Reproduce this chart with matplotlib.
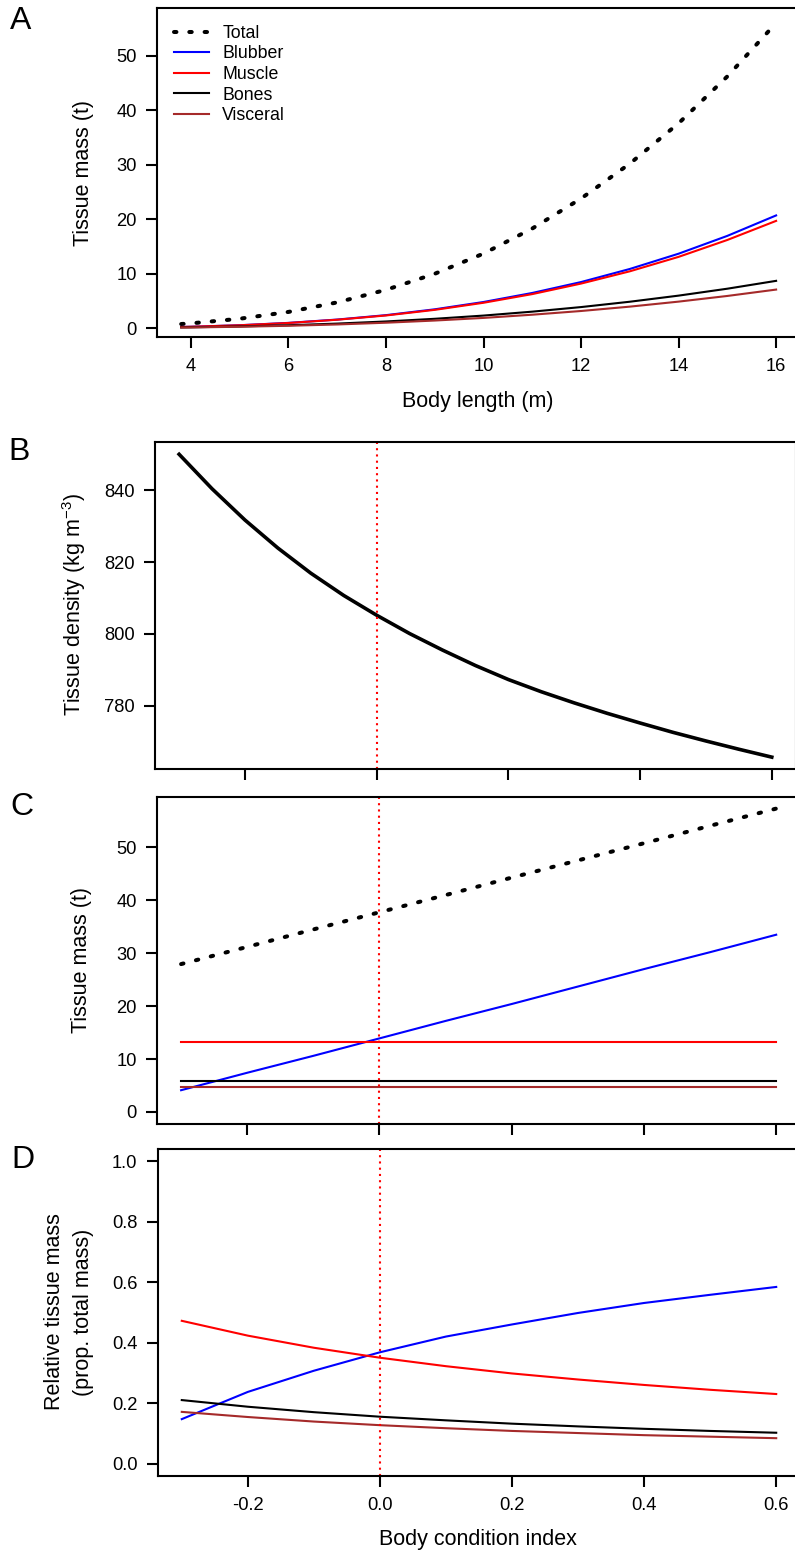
import matplotlib
matplotlib.use('Agg')
import matplotlib.pyplot as plt

plt.rcParams['font.family'] = ['Liberation Sans', 'DejaVu Sans']
plt.rcParams['axes.unicode_minus'] = False
plt.rcParams['mathtext.fontset'] = 'custom'
plt.rcParams['mathtext.rm'] = 'Liberation Sans'
plt.rcParams['mathtext.it'] = 'Liberation Sans:italic'
plt.rcParams['mathtext.default'] = 'regular'

# ---------------- Data ----------------
# Panel A: tissue mass (t) vs body length (m)
length_m = [3.8, 4, 5, 6, 7, 8, 9, 10, 11, 12, 13, 14, 15, 16]
total_A = [0.78, 0.90, 1.75, 3.00, 4.75, 7.05, 10.0, 13.7, 18.3, 23.8, 30.2, 37.6, 46.2, 56.0]
blubber_A = [0.24, 0.28, 0.56, 0.99, 1.60, 2.41, 3.48, 4.82, 6.48, 8.48, 10.88, 13.68, 16.95, 20.7]
muscle_A = [0.24, 0.28, 0.55, 0.97, 1.57, 2.35, 3.38, 4.68, 6.27, 8.20, 10.45, 13.10, 16.20, 19.7]
bones_A = [0.155, 0.18, 0.34, 0.56, 0.86, 1.25, 1.74, 2.33, 3.05, 3.89, 4.87, 5.99, 7.26, 8.7]
visceral_A = [0.13, 0.15, 0.28, 0.46, 0.70, 1.02, 1.42, 1.90, 2.49, 3.17, 3.97, 4.89, 5.93, 7.1]

# Panel B: tissue density vs body condition index
bci_B = [-0.30, -0.25, -0.20, -0.15, -0.10, -0.05, 0.00, 0.05, 0.10, 0.15,
         0.20, 0.25, 0.30, 0.35, 0.40, 0.45, 0.50, 0.55, 0.60]
density_B = [850.0, 840.4, 831.7, 823.9, 816.9, 810.7, 805.2, 800.1, 795.5, 791.2,
             787.3, 783.9, 780.8, 777.9, 775.2, 772.6, 770.2, 767.9, 765.7]

# Panel C: tissue mass (t) vs body condition index
bci_C = [-0.3, -0.2, -0.1, 0.0, 0.1, 0.2, 0.3, 0.4, 0.5, 0.6]
total_C = [27.95, 31.2, 34.5, 37.75, 41.0, 44.3, 47.55, 50.8, 54.1, 57.35]
blubber_C = [4.1, 7.4, 10.6, 13.9, 17.2, 20.4, 23.7, 27.0, 30.2, 33.5]
muscle_C = [13.2, 13.2, 13.2, 13.2, 13.2, 13.2, 13.2, 13.2, 13.2, 13.2]
bones_C = [5.86, 5.86, 5.86, 5.86, 5.86, 5.86, 5.86, 5.86, 5.86, 5.86]
visceral_C = [4.79, 4.79, 4.79, 4.79, 4.79, 4.79, 4.79, 4.79, 4.79, 4.79]

# Panel D: relative tissue mass vs body condition index
bci_D = [-0.3, -0.2, -0.1, 0.0, 0.1, 0.2, 0.3, 0.4, 0.5, 0.6]
blubber_D = [0.147, 0.237, 0.307, 0.368, 0.420, 0.460, 0.498, 0.531, 0.558, 0.584]
muscle_D = [0.472, 0.423, 0.383, 0.350, 0.322, 0.298, 0.278, 0.260, 0.244, 0.230]
bones_D = [0.210, 0.188, 0.170, 0.155, 0.143, 0.132, 0.123, 0.115, 0.108, 0.102]
visceral_D = [0.171, 0.154, 0.139, 0.127, 0.117, 0.108, 0.101, 0.094, 0.089, 0.084]

labels = ['Total', 'Blubber', 'Muscle', 'Bones', 'Visceral']
colors = {'Blubber': '#0000FF', 'Muscle': '#FF0000', 'Bones': '#000000', 'Visceral': '#A52A2A'}

ticks_A_x = [4, 6, 8, 10, 12, 14, 16]
ticks_A_y = [0, 10, 20, 30, 40, 50]
ticks_B_y = [780, 800, 820, 840]
ticks_bci = [-0.2, 0.0, 0.2, 0.4, 0.6]
ticks_C_y = [0, 10, 20, 30, 40, 50]
ticks_D_y = [0.0, 0.2, 0.4, 0.6, 0.8, 1.0]

# ---------------- Layout ----------------
W, H = 795, 1553
fig = plt.figure(figsize=(W / 100, H / 100), dpi=100)


def add_ax(left, top, right, bottom):
    return fig.add_axes([left / W, 1 - bottom / H, (right - left) / W, (bottom - top) / H])


TICK_FS = 13.2
LAB_FS = 15.5
LET_FS = 23
LW = 1.5
DOT_KW = dict(linestyle=(0, (0.6, 3.2)), dash_capstyle='round', linewidth=2.9, color='black')
REF_KW = dict(color='#FF0000', linestyle=(0, (1, 2)), linewidth=1.5)


def style(ax):
    for s in ax.spines.values():
        s.set_linewidth(1.5)
    ax.tick_params(direction='out', length=7.7, width=1.5, labelsize=TICK_FS)
    ax.tick_params(axis='y', pad=7.2)
    ax.tick_params(axis='x', pad=7.5)


# Panel A
axA = add_ax(157.3, 8, 800, 337)
axA.plot(length_m, total_A, label='Total', **DOT_KW)
axA.plot(length_m, blubber_A, color=colors['Blubber'], lw=LW, label='Blubber')
axA.plot(length_m, muscle_A, color=colors['Muscle'], lw=LW, label='Muscle')
axA.plot(length_m, bones_A, color=colors['Bones'], lw=LW, label='Bones')
axA.plot(length_m, visceral_A, color=colors['Visceral'], lw=LW, label='Visceral')
axA.set_xlim(3.31, 16.49)
axA.set_ylim(-1.6, 58.75)
axA.set_xticks(ticks_A_x)
axA.set_yticks(ticks_A_y)
style(axA)
axA.legend(loc='upper left', frameon=False, fontsize=12.8, handlelength=1.95,
           handletextpad=0.75, labelspacing=0.2, borderaxespad=0.5, borderpad=0.45)

# Panel B
axB = add_ax(155.4, 441.7, 795.5, 769)
axB.plot(bci_B, density_B, color='black', lw=2.6)
axB.axvline(0, **REF_KW)
axB.set_xlim(-0.336, 0.636)
axB.set_ylim(762.4, 853.5)
axB.set_xticks(ticks_bci)
axB.set_xticklabels([])
axB.set_yticks(ticks_B_y)
style(axB)

# Panel C
axC = add_ax(157.3, 796.7, 800, 1124)
axC.plot(bci_C, total_C, **DOT_KW)
axC.plot(bci_C, blubber_C, color=colors['Blubber'], lw=LW)
axC.plot(bci_C, muscle_C, color=colors['Muscle'], lw=LW)
axC.plot(bci_C, bones_C, color=colors['Bones'], lw=LW)
axC.plot(bci_C, visceral_C, color=colors['Visceral'], lw=LW)
axC.axvline(0, **REF_KW)
axC.set_xlim(-0.336, 0.636)
axC.set_ylim(-2.29, 59.6)
axC.set_xticks(ticks_bci)
axC.set_xticklabels([])
axC.set_yticks(ticks_C_y)
style(axC)

# Panel D
axD = add_ax(158, 1149, 800, 1475.7)
axD.plot(bci_D, blubber_D, color=colors['Blubber'], lw=LW)
axD.plot(bci_D, muscle_D, color=colors['Muscle'], lw=LW)
axD.plot(bci_D, bones_D, color=colors['Bones'], lw=LW)
axD.plot(bci_D, visceral_D, color=colors['Visceral'], lw=LW)
axD.axvline(0, **REF_KW)
axD.set_xlim(-0.336, 0.636)
axD.set_ylim(-0.04, 1.04)
axD.set_xticks(ticks_bci)
axD.set_xticklabels(['-0.2', '0.0', '0.2', '0.4', '0.6'])
axD.set_yticks(ticks_D_y)
axD.set_yticklabels(['0.0', '0.2', '0.4', '0.6', '0.8', '1.0'])
style(axD)


def ftext(x, y, s, **kw):
    fig.text(x / W, 1 - y / H, s, **kw)


# Axis labels
ftext(83, 172.5, 'Tissue mass (t)', rotation=90, ha='center', va='center', fontsize=LAB_FS)
ftext(478, 401, 'Body length (m)', ha='center', va='center', fontsize=LAB_FS)
ftext(74, 605, r'Tissue density (kg m$^{-3}$)', rotation=90, ha='center', va='center', fontsize=LAB_FS)
ftext(81, 960, 'Tissue mass (t)', rotation=90, ha='center', va='center', fontsize=LAB_FS)
ftext(55, 1312, 'Relative tissue mass', rotation=90, ha='center', va='center', fontsize=LAB_FS)
ftext(83, 1312, '(prop. total mass)', rotation=90, ha='center', va='center', fontsize=LAB_FS)
ftext(478, 1540, 'Body condition index', ha='center', va='center', fontsize=LAB_FS)

# Panel letters
ftext(21, 21, 'A', ha='center', va='center', fontsize=LET_FS)
ftext(19, 452, 'B', ha='center', va='center', fontsize=LET_FS)
ftext(22, 807, 'C', ha='center', va='center', fontsize=LET_FS)
ftext(23, 1160, 'D', ha='center', va='center', fontsize=LET_FS)

fig.savefig('out.png', dpi=100)
